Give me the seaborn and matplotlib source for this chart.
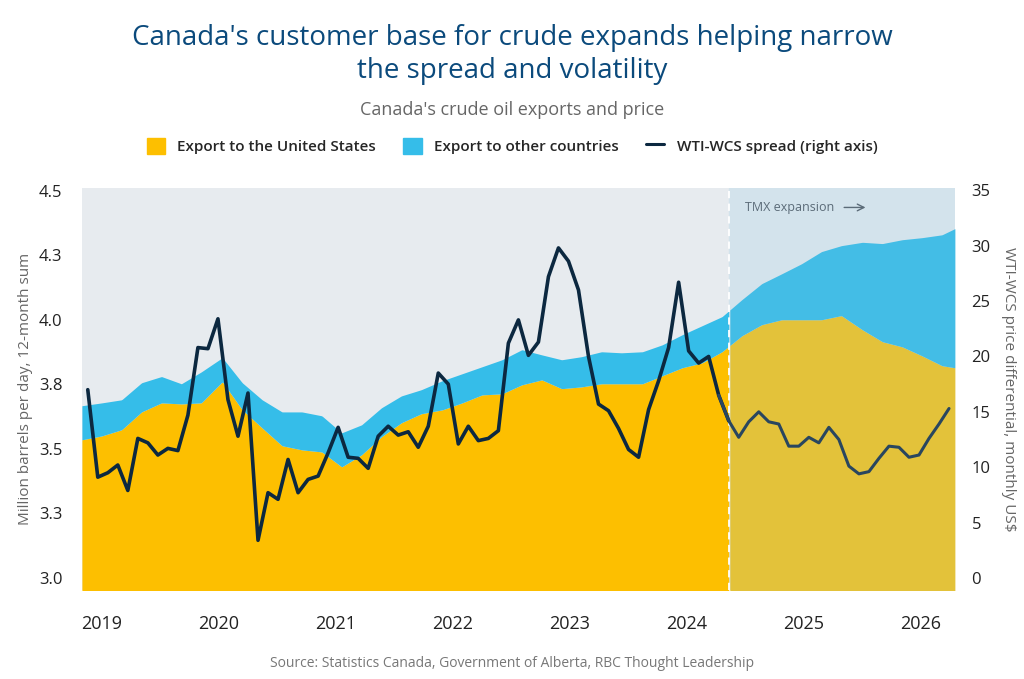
import numpy as np
import matplotlib
matplotlib.use("Agg")
import matplotlib.pyplot as plt
import seaborn as sns
import pandas as pd

sns.set_theme(style="white")
plt.rcParams['font.family'] = ['Open Sans', 'DejaVu Sans']

# Export area data (decimal year, total exports, US exports), million b/d
area_years = [2018.83, 2019.0, 2019.17, 2019.34, 2019.51, 2019.68, 2019.85, 2020.03, 2020.2, 2020.37,
              2020.54, 2020.71, 2020.88, 2021.05, 2021.22, 2021.39, 2021.56, 2021.73, 2021.91, 2022.08,
              2022.25, 2022.42, 2022.59, 2022.76, 2022.93, 2023.1, 2023.27, 2023.44, 2023.62, 2023.79,
              2023.96, 2024.13, 2024.3, 2024.47, 2024.64, 2024.81, 2024.98, 2025.15, 2025.32, 2025.5,
              2025.67, 2025.84, 2026.01, 2026.18, 2026.29]
total_exports = [3.667, 3.678, 3.69, 3.756, 3.78, 3.752, 3.798, 3.853, 3.756, 3.69,
                 3.643, 3.643, 3.628, 3.562, 3.593, 3.659, 3.705, 3.729, 3.764, 3.791,
                 3.818, 3.845, 3.884, 3.864, 3.845, 3.857, 3.876, 3.872, 3.876, 3.903,
                 3.942, 3.977, 4.012, 4.078, 4.14, 4.178, 4.217, 4.264, 4.287, 4.30,
                 4.295, 4.31, 4.318, 4.329, 4.353]
us_exports = [3.535, 3.55, 3.574, 3.643, 3.678, 3.674, 3.678, 3.76, 3.651, 3.581,
              3.512, 3.496, 3.488, 3.43, 3.477, 3.547, 3.601, 3.636, 3.651, 3.678,
              3.709, 3.713, 3.748, 3.767, 3.733, 3.74, 3.752, 3.752, 3.752, 3.783,
              3.814, 3.833, 3.876, 3.938, 3.981, 4.0, 4.0, 4.0, 4.016, 3.961,
              3.915, 3.895, 3.86, 3.822, 3.814]

# WTI-WCS spread, monthly US$
spread = [17.0, 9.1, 9.5, 10.2, 7.9, 12.6, 12.2, 11.1, 11.7, 11.5, 14.7, 20.8, 20.7, 23.4, 16.1,
          12.8, 16.7, 3.4, 7.7, 7.1, 10.7, 7.7, 8.9, 9.2, 11.3, 13.6, 10.9, 10.8, 9.9, 12.8,
          13.7, 12.9, 13.2, 11.8, 13.7, 18.5, 17.5, 12.1, 13.7, 12.4, 12.6, 13.3, 21.2, 23.3, 20.1,
          21.3, 27.2, 29.8, 28.6, 26.0, 20.0, 15.7, 15.1, 13.5, 11.6, 10.9, 15.2, 17.8, 20.8, 26.7,
          20.5, 19.4, 20.0, 16.5, 14.2, 12.7, 14.1, 15.0, 14.1, 13.9, 11.9, 11.9, 12.7, 12.2, 13.6,
          12.5, 10.1, 9.4, 9.6, 10.8, 11.9, 11.8, 10.9, 11.1, 12.6, 13.9, 15.3]
spread_start, spread_end = 2018.88, 2026.24
forecast_start = 2024.36
year_ticks = [2019, 2020, 2021, 2022, 2023, 2024, 2025, 2026]
left_ticks = [3.0, 3.25, 3.5, 3.75, 4.0, 4.25, 4.5]
left_labels = ["3.0", "3.3", "3.5", "3.8", "4.0", "4.3", "4.5"]
right_ticks = [0, 5, 10, 15, 20, 25, 30, 35]

ax_ = np.array(area_years); tot = np.array(total_exports); us = np.array(us_exports)
sp_x = np.linspace(spread_start, spread_end, len(spread))
sp = np.array(spread)

fig = plt.figure(figsize=(10.24, 6.79), dpi=100)
ax = fig.add_axes([0.080, 0.131, 0.8525, 0.592])
x0, x1 = ax_[0], ax_[-1]
ax.set_xlim(x0, x1)
ax.set_ylim(2.953, 4.51)
ax.axvspan(x0, forecast_start, color="#e7ebef", zorder=0)
ax.axvspan(forecast_start, x1, color="#d3e3ec", zorder=0)

fine = np.linspace(x0, x1, 800)
t_i = np.interp(fine, ax_, tot); u_i = np.interp(fine, ax_, us)
hist = fine <= forecast_start; fc = fine >= forecast_start
ax.fill_between(fine[hist], 2.9, u_i[hist], color="#fdbf00", lw=0, zorder=1)
ax.fill_between(fine[hist], u_i[hist], t_i[hist], color="#35bde9", lw=0, zorder=1)
ax.fill_between(fine[fc], 2.9, u_i[fc], color="#e3c23a", lw=0, zorder=1)
ax.fill_between(fine[fc], u_i[fc], t_i[fc], color="#43bde6", lw=0, zorder=1)
ax.axvline(forecast_start, color="white", ls=(0, (4, 3)), lw=1.3, zorder=2)
ax.text(2024.5, 4.435, "TMX expansion", fontsize=9, color="#5b6b78", va="center")
ax.annotate("", xy=(2025.55, 4.435), xytext=(2025.32, 4.435),
            arrowprops=dict(arrowstyle="->", color="#5b6b78", lw=1))

ax.set_yticks(left_ticks)
ax.set_yticklabels(left_labels)
ax.set_xticks(year_ticks)
ax.tick_params(axis="y", length=0, labelsize=12, colors="#222222", pad=14)
ax.tick_params(axis="x", length=0, labelsize=13, colors="#222222", pad=18)
ax.set_ylabel("Million barrels per day, 12-month sum", fontsize=11, color="#666666")
for s in ax.spines.values():
    s.set_visible(False)

ax2 = ax.twinx()
ax2.set_ylim(-1.09, 35.2)
df = pd.DataFrame({"x": sp_x, "y": sp})
h = df[df.x <= forecast_start + 0.01]; f = df[df.x >= forecast_start - 0.09]
sns.lineplot(data=h, x="x", y="y", ax=ax2, color="#0c2840", lw=2.6)
sns.lineplot(data=f, x="x", y="y", ax=ax2, color="#29465f", lw=2.2)
ax2.set_yticks(right_ticks)
ax2.tick_params(axis="y", length=0, labelsize=12, colors="#222222", pad=12)
ax2.set_ylabel("WTI-WCS price differential, monthly US$", fontsize=11, color="#666666", rotation=270, labelpad=18)
ax2.set_xlabel("")
for s in ax2.spines.values():
    s.set_visible(False)

fig.text(0.5, 0.92, "Canada's customer base for crude expands helping narrow\nthe spread and volatility",
         ha="center", va="center", fontsize=20, color="#0b4a7c", linespacing=1.25)
fig.text(0.5, 0.838, "Canada's crude oil exports and price", ha="center", va="center", fontsize=13, color="#666666")
# legend
from matplotlib.patches import Patch
from matplotlib.lines import Line2D
handles = [Patch(color="#fdbf00"), Patch(color="#35bde9"), Line2D([], [], color="#0c2840", lw=2.2)]
labels = ["Export to the United States", "Export to other countries", "WTI-WCS spread (right axis)"]
leg = fig.legend(handles, labels, loc="center", bbox_to_anchor=(0.5, 0.785), ncol=3, frameon=False,
                 fontsize=11, handlelength=1.2, handleheight=1.2, columnspacing=1.8, handletextpad=0.8)
for t in leg.get_texts():
    t.set_fontweight("semibold")
fig.text(0.5, 0.018, "Source: Statistics Canada, Government of Alberta, RBC Thought Leadership",
         ha="center", fontsize=10, color="#777777")
fig.savefig("out.png", dpi=100)
